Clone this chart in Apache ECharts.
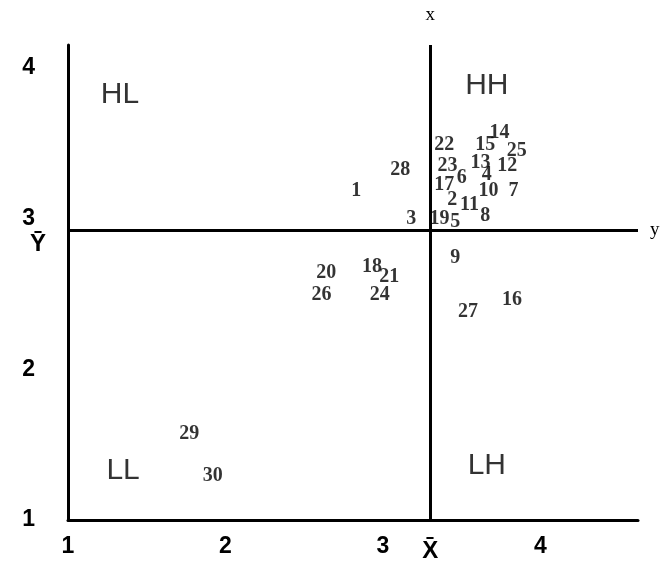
<!DOCTYPE html>
<html>
<head>
<meta charset="utf-8">
<style>
  html, body { margin: 0; padding: 0; background: #fff; }
  #main { width: 663px; height: 569px; }
</style>
<script src="https://cdn.jsdelivr.net/npm/echarts@6/dist/echarts.min.js"></script>
</head>
<body>
<div id="main"></div>
<script>
// point ids and their (x, y) values
var ids = ['1','2','3','4','5','6','7','8','9','10','11','12','13','14','15',
           '16','17','18','19','20','21','22','23','24','25','26','27','28','29','30'];
var xs = [2.83, 3.44, 3.18, 3.66, 3.46, 3.50, 3.83, 3.65, 3.46, 3.67, 3.55, 3.79, 3.62, 3.74, 3.65,
          3.82, 3.39, 2.93, 3.36, 2.64, 3.04, 3.39, 3.41, 2.98, 3.85, 2.61, 3.54, 3.11, 1.77, 1.92];
var ys = [3.18, 3.12, 3.00, 3.29, 2.98, 3.27, 3.18, 3.02, 2.74, 3.18, 3.09, 3.35, 3.37, 3.57, 3.49,
          2.46, 3.22, 2.68, 3.00, 2.64, 2.61, 3.49, 3.35, 2.49, 3.45, 2.49, 2.38, 3.32, 1.57, 1.29];
var xMean = 3.30;
var yMean = 2.92;
var xTicks = [1, 2, 3, 4];
var yTicks = [1, 2, 3, 4];
var quadNames = ['HL', 'HH', 'LL', 'LH'];
var quadX = [1.33, 3.66, 1.35, 3.66];
var quadY = [3.82, 3.88, 1.33, 1.36];

var pts = [];
for (var i = 0; i < ids.length; i++) {
  pts.push({ name: ids[i], value: [xs[i], ys[i]] });
}
var quads = [];
for (var j = 0; j < quadNames.length; j++) {
  quads.push({ name: quadNames[j], value: [quadX[j], quadY[j]] });
}

var sans = '"Liberation Sans", Arial, sans-serif';
var serif = '"Liberation Serif", "Times New Roman", serif';

var chart = echarts.init(document.getElementById('main'));
chart.setOption({
  animation: false,
  backgroundColor: '#fff',
  grid: { left: 68, right: 25, top: 45, bottom: 49 },
  xAxis: {
    type: 'value', min: 1, max: 4.62, interval: 1,
    axisLine: { show: true, lineStyle: { color: '#000', width: 3 } },
    axisTick: { show: false },
    splitLine: { show: false },
    axisLabel: {
      margin: 15, color: '#000', fontSize: 23, fontFamily: sans, fontWeight: 'bold',
      formatter: function (v) { return xTicks.indexOf(v) >= 0 ? String(v) : ''; }
    }
  },
  yAxis: {
    type: 'value', min: 1, max: 4.15, interval: 1,
    axisLine: { show: true, lineStyle: { color: '#000', width: 3 } },
    axisTick: { show: false },
    splitLine: { show: false },
    axisLabel: {
      margin: 33, color: '#000', fontSize: 23, fontFamily: sans, fontWeight: 'bold',
      formatter: function (v) { return yTicks.indexOf(v) >= 0 ? String(v) : ''; }
    }
  },
  series: [
    {
      type: 'scatter',
      symbolSize: 0,
      data: pts,
      label: {
        show: true, position: 'inside', formatter: '{b}',
        color: '#000', fontSize: 20, fontFamily: serif, fontWeight: 'bold'
      },
      markLine: {
        silent: true,
        symbol: 'none',
        lineStyle: { color: '#000', width: 3, type: 'solid' },
        data: [
          { xAxis: xMean, label: { position: 'end', formatter: 'x', fontFamily: serif, fontSize: 19, color: '#000', distance: 20 } },
          { xAxis: xMean, label: { position: 'start', formatter: 'X\u0304', fontFamily: sans, fontSize: 24, fontWeight: 'bold', color: '#000', distance: 19 } },
          { yAxis: yMean, label: { position: 'end', formatter: 'y', fontFamily: serif, fontSize: 19, color: '#000', distance: 12 } },
          { yAxis: yMean, label: { position: 'start', formatter: ' \nY\u0304', lineHeight: 28, fontFamily: sans, fontSize: 24, fontWeight: 'bold', color: '#000', distance: 22 } }
        ]
      }
    },
    {
      type: 'scatter',
      symbolSize: 0,
      data: quads,
      label: {
        show: true, position: 'inside', formatter: '{b}',
        color: '#000', fontSize: 30, fontFamily: sans
      }
    }
  ]
});
</script>
</body>
</html>
